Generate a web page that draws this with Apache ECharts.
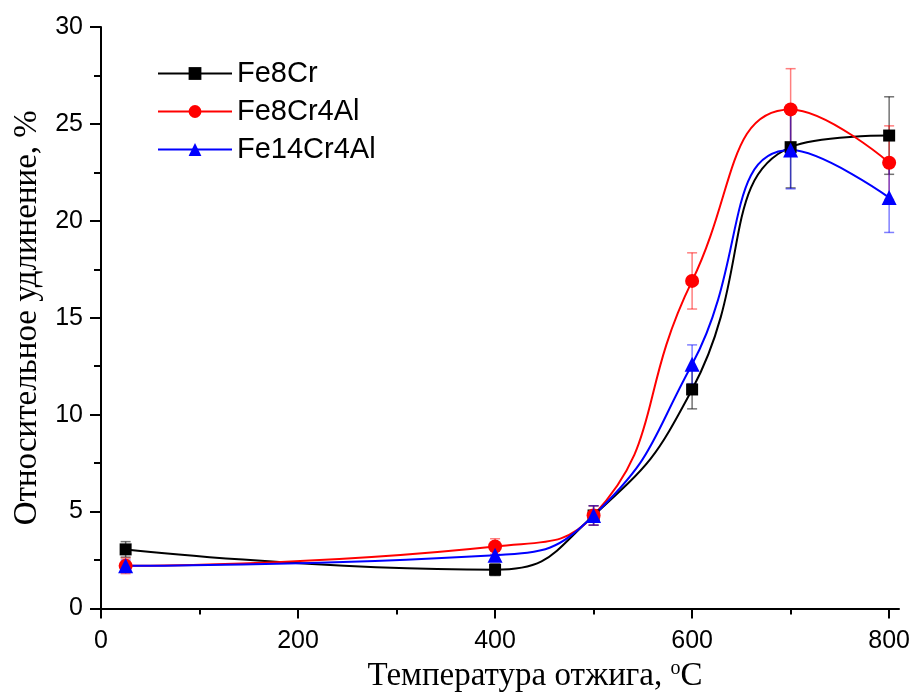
<!DOCTYPE html>
<html>
<head>
<meta charset="utf-8">
<script src="https://cdn.jsdelivr.net/npm/echarts@6/dist/echarts.min.js"></script>
<style>
    html, body { margin: 0; padding: 0; background: #fff; }
    #chart { width: 916px; height: 698px; }
</style>
</head>
<body>
<div id="chart"></div>
<script>
    // temperatures, degC
    var temps = [25, 400, 500, 600, 700, 800];

    // elongation, %
    var fe8cr = [3.05, 2.0, 4.8, 11.3, 23.8, 24.4];
    var fe8cr4al = [2.2, 3.2, 4.8, 16.9, 25.75, 23.0];
    var fe14cr4al = [2.2, 2.75, 4.8, 12.6, 23.65, 21.2];

    // error bar half widths
    var fe8crErr = [0.4, 0.3, 0.5, 1.0, 2.1, 2.0];
    var fe8cr4alErr = [0.4, 0.4, 0.5, 1.45, 2.1, 1.9];
    var fe14cr4alErr = [0.3, 0.3, 0.5, 1.0, 2.0, 1.8];

    var names = ['Fe8Cr', 'Fe8Cr4Al', 'Fe14Cr4Al'];
    var xTicks = [0, 200, 400, 600, 800];
    var xMinorTicks = [100, 300, 500, 700];
    var yTicks = [0, 5, 10, 15, 20, 25, 30];

    var sansFont = '"Liberation Sans", Arial, sans-serif';
    var serifFont = '"Liberation Serif", "Times New Roman", serif';

    var myChart = echarts.init(document.getElementById('chart'));

    function pairs(ys) {
        var out = [], i;
        for (i = 0; i < temps.length; i++) {
            out.push([temps[i], ys[i]]);
        }
        return out;
    }

    function errData(ys, es) {
        var out = [], i;
        for (i = 0; i < temps.length; i++) {
            out.push([temps[i], ys[i], es[i]]);
        }
        return out;
    }

    function errSeries(ys, es, color) {
        return {
            type: 'custom',
            z: 1,
            silent: true,
            data: errData(ys, es),
            renderItem: function (params, api) {
                var x = api.value(0), y = api.value(1), e = api.value(2),
                    lo = api.coord([x, y - e]),
                    hi = api.coord([x, y + e]),
                    w = 5,
                    st = { stroke: color, lineWidth: 1.5 };
                return {
                    type: 'group',
                    children: [
                        { type: 'line', shape: { x1: lo[0], y1: lo[1], x2: hi[0], y2: hi[1] }, style: st },
                        { type: 'line', shape: { x1: lo[0] - w, y1: lo[1], x2: lo[0] + w, y2: lo[1] }, style: st },
                        { type: 'line', shape: { x1: hi[0] - w, y1: hi[1], x2: hi[0] + w, y2: hi[1] }, style: st }
                    ]
                };
            }
        };
    }

    function lineSeries(name, ys, color, symbol, size) {
        return {
            name: name,
            type: 'line',
            z: 3,
            smooth: 0.5,
            data: pairs(ys),
            symbol: symbol,
            symbolSize: size,
            lineStyle: { color: color, width: 2 },
            itemStyle: { color: color }
        };
    }

    var option = {
        animation: false,
        backgroundColor: '#fff',
        legend: {
            orient: 'vertical',
            left: 152,
            top: 54,
            itemWidth: 74,
            itemHeight: 16,
            itemGap: 9,
            textStyle: { fontFamily: sansFont, fontSize: 29, color: '#000' },
            data: names
        },
        grid: {
            left: 101,
            right: 17,
            top: 27,
            bottom: 89
        },
        xAxis: [{
            type: 'value',
            min: 0,
            max: 810,
            interval: 200,
            name: 'Температура отжига, {sup|o}C',
            nameLocation: 'middle',
            nameGap: 50,
            nameTextStyle: {
                fontFamily: serifFont,
                fontSize: 33,
                color: '#000',
                padding: [0, 0, 0, 70],
                rich: {
                    sup: { fontFamily: serifFont, fontSize: 20, color: '#000', padding: [0, 0, 16, 0] }
                }
            },
            axisLine: { lineStyle: { color: '#000', width: 2 } },
            axisTick: { inside: false, length: 10, customValues: xTicks, lineStyle: { color: '#000', width: 2 } },
            axisLabel: { fontFamily: sansFont, fontSize: 25, color: '#000', margin: 20, customValues: xTicks },
            splitLine: { show: false }
        }, {
            type: 'value',
            min: 0,
            max: 810,
            position: 'bottom',
            axisLine: { show: false },
            axisTick: { inside: false, length: 6, customValues: xMinorTicks, lineStyle: { color: '#000', width: 2 } },
            axisLabel: { show: false },
            splitLine: { show: false }
        }],
        yAxis: {
            type: 'value',
            min: yTicks[0],
            max: yTicks[yTicks.length - 1],
            interval: 5,
            name: 'Относительное удлинение, %',
            nameLocation: 'middle',
            nameGap: 52,
            nameTextStyle: { fontFamily: serifFont, fontSize: 33, color: '#000' },
            axisLine: { lineStyle: { color: '#000', width: 2 } },
            axisTick: { inside: false, length: 11, lineStyle: { color: '#000', width: 2 } },
            minorTick: { show: true, splitNumber: 2, length: 7, lineStyle: { color: '#000', width: 2 } },
            axisLabel: { fontFamily: sansFont, fontSize: 25, color: '#000', margin: 18 },
            splitLine: { show: false }
        },
        series: [
            errSeries(fe8cr, fe8crErr, 'rgba(0,0,0,0.55)'),
            errSeries(fe8cr4al, fe8cr4alErr, 'rgba(255,0,0,0.5)'),
            errSeries(fe14cr4al, fe14cr4alErr, 'rgba(0,0,255,0.5)'),
            lineSeries(names[0], fe8cr, '#000000', 'rect', 12),
            lineSeries(names[1], fe8cr4al, '#ff0000', 'circle', 14),
            lineSeries(names[2], fe14cr4al, '#0000ff', 'triangle', 15)
        ]
    };

    myChart.setOption(option);
</script>
</body>
</html>
